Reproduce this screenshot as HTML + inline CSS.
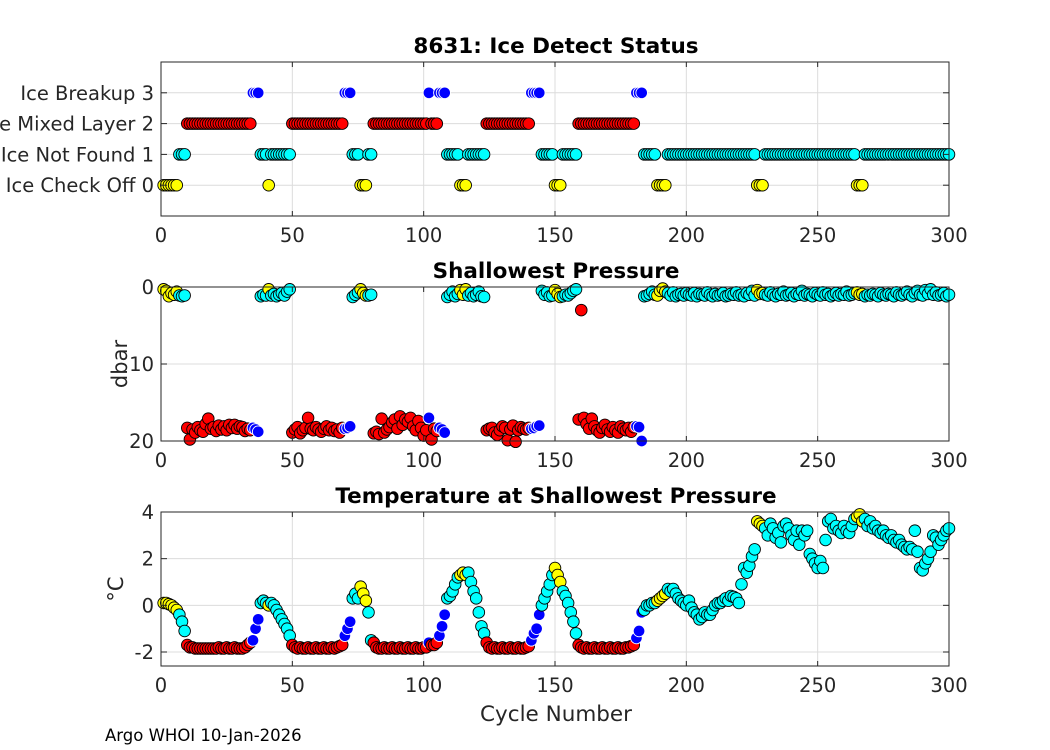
<!DOCTYPE html>
<html><head><meta charset="utf-8"><style>
html,body{margin:0;padding:0;background:#fff;}
svg{display:block;font-family:"DejaVu Sans","Liberation Sans",sans-serif;}
</style></head><body>
<svg id="chart" width="1050" height="750" viewBox="0 0 1050 750" xmlns="http://www.w3.org/2000/svg">
<rect width="1050" height="750" fill="#fff"/>
<g id="grids"></g>
<g id="marks"></g>
<g id="frames"></g>
<text x="556" y="53" text-anchor="middle" font-size="21.5" font-weight="bold" fill="#000">8631: Ice Detect Status</text>
<text x="556" y="278" text-anchor="middle" font-size="21.5" font-weight="bold" fill="#000">Shallowest Pressure</text>
<text x="556" y="503" text-anchor="middle" font-size="21.5" font-weight="bold" fill="#000">Temperature at Shallowest Pressure</text>
<text x="0" y="0" transform="translate(127,364) rotate(-90)" text-anchor="middle" font-size="21" fill="#262626">dbar</text>
<text x="0" y="0" transform="translate(123,589) rotate(-90)" text-anchor="middle" font-size="21" fill="#262626">°C</text>
<text x="556" y="721" text-anchor="middle" font-size="21.5" fill="#262626">Cycle Number</text>
<text x="105" y="741" font-size="16.5" fill="#000">Argo WHOI 10-Jan-2026</text>
</svg>
<script>
const statusCodes = [
0,0,0,0,0,0,1,1,1,2, 2,2,2,2,2,2,2,2,2,2, 2,2,2,2,2,2,2,2,2,2, 2,2,2,2,3,3,3,1,1,1,
0,1,1,1,1,1,1,1,1,2, 2,2,2,2,2,2,2,2,2,2, 2,2,2,2,2,2,2,2,2,3, 3,3,1,1,1,0,0,0,1,1,
2,2,2,2,2,2,2,2,2,2, 2,2,2,2,2,2,2,2,2,2, 2,3,2,2,2,3,3,3,1,1, 1,1,1,0,0,0,1,1,1,1,
1,1,1,2,2,2,2,2,2,2, 2,2,2,2,2,2,2,2,2,2, 3,3,3,3,1,1,1,1,1,0, 0,0,1,1,1,1,1,1,2,2,
2,2,2,2,2,2,2,2,2,2, 2,2,2,2,2,2,2,2,2,2, 3,3,3,1,1,1,1,1,0,0, 0,0,1,1,1,1,1,1,1,1,
1,1,1,1,1,1,1,1,1,1, 1,1,1,1,1,1,1,1,1,1, 1,1,1,1,1,1,0,0,0,1, 1,1,1,1,1,1,1,1,1,1,
1,1,1,1,1,1,1,1,1,1, 1,1,1,1,1,1,1,1,1,1, 1,1,1,1,0,0,0,1,1,1, 1,1,1,1,1,1,1,1,1,1,
1,1,1,1,1,1,1,1,1,1, 1,1,1,1,1,1,1,1,1,1];
const pressures = [
0.3,0.5,1.2,0.8,1.0,0.6,1.1,1.2,1.1,18.3, 19.8,18.5,18.9,18.2,18.6,18.8,17.8,17.1,18.4,18.2,
18.7,18.0,18.5,18.1,18.6,17.9,18.3,17.9,18.4,18.1, 18.2,18.7,18.4,18.6,18.3,18.5,18.8,1.2,1.0,1.1,
0.3,1.1,0.9,1.2,1.0,0.8,1.1,0.6,0.3,18.9, 18.5,18.2,19.0,18.6,18.3,17.0,18.4,18.6,18.2,18.5,
18.8,18.4,18.1,18.6,18.3,18.7,18.5,18.9,18.3,18.4, 18.3,18.1,1.3,1.0,0.7,0.3,0.8,1.1,1.1,1.0,
19.0,18.8,19.1,17.1,18.9,18.5,18.2,17.6,17.2,18.4, 16.8,17.9,17.2,17.5,17.0,18.1,18.6,17.4,18.3,19.3,
18.6,17.0,19.8,18.4,18.7,18.3,18.5,18.9,1.3,1.0, 0.6,1.2,0.9,0.4,1.0,0.3,1.1,0.8,1.2,1.0,
0.6,1.2,1.3,18.6,18.4,18.3,18.9,19.2,18.6,18.1, 18.3,19.9,18.5,18.0,20.1,18.6,18.2,18.4,18.5,18.3,
18.4,18.3,18.1,18.0,0.5,1.0,0.7,1.2,1.1,0.4, 0.9,1.3,1.2,1.0,1.1,0.8,0.5,0.3,17.2,3.0,
17.0,17.8,18.4,17.1,18.1,18.6,18.9,18.3,17.9,18.5, 18.8,18.2,18.6,18.9,18.1,18.4,18.6,18.3,18.8,18.2,
18.1,18.2,20.0,1.2,1.1,0.9,0.6,1.0,1.1,0.5, 0.2,0.6,0.8,1.1,0.7,1.2,1.0,0.9,1.1,0.8,
1.0,1.1,0.8,1.2,0.9,1.0,1.1,0.7,1.0,1.2, 0.9,1.1,1.0,0.8,1.2,1.1,0.9,1.0,0.7,1.1,
1.0,1.2,0.8,1.0,0.5,1.1,0.4,0.9,0.8,1.0, 1.1,0.7,1.0,1.2,0.9,1.0,0.6,1.1,1.0,0.8,
1.2,0.9,1.0,0.5,1.1,0.9,1.0,1.2,0.8,1.0, 1.1,0.7,1.0,0.9,1.2,1.0,0.8,1.1,0.9,1.0,
0.6,1.1,1.0,0.8,0.7,1.0,0.9,1.2,1.0,1.1, 0.9,1.0,1.2,0.8,1.0,1.1,0.9,1.0,1.2,0.7,
1.0,1.1,0.9,0.6,1.0,1.2,0.8,0.5,1.0,1.1, 0.4,0.9,0.3,1.0,0.7,1.1,1.0,0.8,1.2,1.0];
const temperatures = [
0.1,0.1,0.05,0,-0.1,-0.2,-0.4,-0.7,-1.1,-1.7, -1.8,-1.8,-1.85,-1.85,-1.85,-1.85,-1.85,-1.85,-1.85,-1.85,
-1.85,-1.8,-1.85,-1.85,-1.8,-1.85,-1.85,-1.8,-1.85,-1.85, -1.85,-1.8,-1.7,-1.6,-1.5,-1.0,-0.6,0.1,0.2,0.1,
0.0,0.1,0.0,-0.2,-0.4,-0.6,-0.8,-1.0,-1.3,-1.7, -1.8,-1.85,-1.8,-1.85,-1.85,-1.8,-1.85,-1.85,-1.8,-1.85,
-1.85,-1.8,-1.85,-1.85,-1.8,-1.85,-1.8,-1.75,-1.7,-1.3, -1.0,-0.7,0.3,0.5,0.3,0.8,0.5,0.2,-0.3,-1.5,
-1.6,-1.8,-1.85,-1.85,-1.8,-1.85,-1.85,-1.8,-1.85,-1.85, -1.8,-1.85,-1.85,-1.8,-1.85,-1.85,-1.8,-1.85,-1.85,-1.8,
-1.8,-1.6,-1.7,-1.7,-1.6,-1.3,-0.9,-0.4,0.3,0.4, 0.6,0.9,1.2,1.3,1.4,1.3,1.4,1.0,0.6,0.3,
-0.3,-0.9,-1.2,-1.6,-1.8,-1.85,-1.8,-1.85,-1.85,-1.8, -1.85,-1.85,-1.8,-1.85,-1.85,-1.8,-1.85,-1.85,-1.8,-1.75,
-1.5,-1.2,-1.0,-0.4,0.0,0.3,0.6,0.9,1.3,1.6, 1.3,1.0,0.6,0.4,0.1,-0.3,-0.7,-1.2,-1.7,-1.8,
-1.85,-1.8,-1.85,-1.85,-1.8,-1.85,-1.85,-1.8,-1.85,-1.85, -1.8,-1.85,-1.85,-1.8,-1.85,-1.85,-1.8,-1.8,-1.75,-1.7,
-1.4,-1.1,-0.3,-0.2,0.0,0.0,0.1,0.1,0.2,0.3, 0.4,0.5,0.7,0.6,0.7,0.5,0.3,0.2,0.1,0.0,
0.2,-0.1,-0.3,-0.4,-0.6,-0.5,-0.3,-0.4,-0.4,-0.2, 0.0,0.1,0.1,0.2,0.3,0.2,0.4,0.36,0.3,0.1,
0.9,1.6,1.4,1.7,2.1,2.4,3.6,3.5,3.4,3.3, 3.0,3.5,3.3,2.9,3.1,2.7,3.4,3.5,3.3,3.0,
2.8,3.2,2.6,3.2,3.0,3.2,2.2,2.0,1.8,1.6, 1.9,1.6,2.8,3.6,3.7,3.3,3.4,3.2,3.1,3.4,
3.2,3.1,3.4,3.7,3.8,3.9,3.6,3.7,3.4,3.6, 3.3,3.4,3.2,3.1,3.2,3.0,2.9,3.0,2.8,2.7,
2.8,2.6,2.5,2.4,2.5,2.4,3.2,2.3,1.6,1.5, 1.8,2.0,2.3,3.0,2.9,2.6,2.8,3.0,3.2,3.3];
const xTicks = [0,50,100,150,200,250,300];
const statusTickLabels = ["Ice Check Off 0","Above Mixed Layer 2","Ice Not Found 1","Ice Breakup 3"];
const statusTickValues = [0,2,1,3];
const pressureTicks = [0,10,20];
const tempTicks = [-2,0,2,4];

const NS = "http://www.w3.org/2000/svg";
const L = 161, R = 949;
const panels = [
  {top:62, bot:216, ymin:-1, ymax:4, rev:false},
  {top:287, bot:441, ymin:0, ymax:20, rev:true},
  {top:512, bot:666, ymin:-2.6, ymax:4, rev:false}
];
function xs(c){ return L + (c/300)*(R-L); }
function ys(p,v){ return p.rev ? p.top + (v-p.ymin)/(p.ymax-p.ymin)*(p.bot-p.top) : p.bot - (v-p.ymin)/(p.ymax-p.ymin)*(p.bot-p.top); }
function mk(tag, attrs, parent){ const e=document.createElementNS(NS,tag); for(const k in attrs) e.setAttribute(k,attrs[k]); parent.appendChild(e); return e; }
const grids=document.getElementById('grids'), marks=document.getElementById('marks'), frames=document.getElementById('frames');
const colors=["#ffff00","#00ffff","#ff0000","#0000ff"];

panels.forEach((p,pi)=>{
  const yt = pi===0 ? statusTickValues : (pi===1 ? pressureTicks : tempTicks);
  xTicks.forEach(t=>{
    const g=mk('line',{x1:xs(t),x2:xs(t),y1:p.top,y2:p.bot,stroke:'#dcdcdc','stroke-width':1},grids);
    
    
    mk('line',{x1:xs(t),x2:xs(t),y1:p.bot,y2:p.bot-5,stroke:'#262626','stroke-width':1},frames);
    mk('line',{x1:xs(t),x2:xs(t),y1:p.top,y2:p.top+5,stroke:'#262626','stroke-width':1},frames);
    const tx=mk('text',{x:xs(t),y:p.bot+26,'text-anchor':'middle','font-size':19.5,fill:'#262626'},frames);
    tx.textContent=t;
    
    
  });
  yt.forEach((t,i)=>{
    const y=ys(p,t);
    const g=mk('line',{x1:L,x2:R,y1:y,y2:y,stroke:'#dcdcdc','stroke-width':1},grids);
    
    
    mk('line',{x1:L,x2:L+6,y1:y,y2:y,stroke:'#262626','stroke-width':1},frames);
    mk('line',{x1:R,x2:R-6,y1:y,y2:y,stroke:'#262626','stroke-width':1},frames);
    const tx=mk('text',{x:L-7,y:y+7,'text-anchor':'end','font-size':19.5,fill:'#262626'},frames);
    tx.textContent = pi===0 ? statusTickLabels[i] : t;
    
    
  });
  const fr=mk('rect',{x:L,y:p.top,width:R-L,height:p.bot-p.top,fill:'none',stroke:'#262626','stroke-width':1},frames);
  
  
});

for(let i=0;i<statusCodes.length;i++){
  const c=i+1, s=statusCodes[i];
  const vals=[s, pressures[i], temperatures[i]];
  panels.forEach((p,pi)=>{
    const m=mk('circle',{cx:xs(c),cy:ys(p,vals[pi]),r:5.8,fill:colors[s],stroke:s===3?'#ffffff':'#000000','stroke-width':0.9},marks);
    
    
  });
}
</script>
</body></html>
